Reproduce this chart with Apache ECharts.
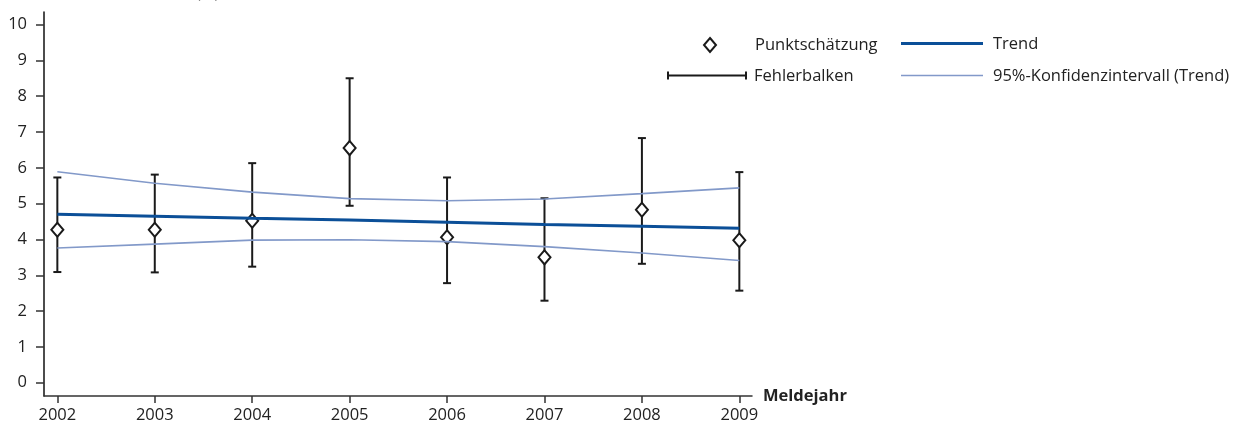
<!DOCTYPE html>
<html>
<head>
<meta charset="utf-8">
<script src="https://cdn.jsdelivr.net/npm/echarts@6/dist/echarts.min.js"></script>
<style>
html,body{margin:0;padding:0;background:#fff;}
#chart{width:1241px;height:425px;}
</style>
</head>
<body>
<div id="chart"></div>
<script>
const years = [2002, 2003, 2004, 2005, 2006, 2007, 2008, 2009];
const estimate = [4.27, 4.27, 4.52, 6.55, 4.06, 3.50, 4.83, 3.98];
const errLow = [3.09, 3.08, 3.24, 4.94, 2.78, 2.29, 3.32, 2.57];
const errHigh = [5.73, 5.81, 6.13, 8.50, 5.73, 5.15, 6.83, 5.88];
const trend = [4.70, 4.65, 4.59, 4.54, 4.48, 4.42, 4.37, 4.31];
const ciUpper = [5.89, 5.57, 5.32, 5.14, 5.08, 5.13, 5.28, 5.44];
const ciLower = [3.76, 3.87, 3.98, 3.99, 3.94, 3.80, 3.62, 3.41];
const yTicks = [0, 1, 2, 3, 4, 5, 6, 7, 8, 9, 10];

const FONT = '"Open Sans", sans-serif';
const TXT = '#222';
const TREND_C = '#0b4f98';
const CI_C = '#8299c9';
const BAR_C = '#1a1a1a';

const chart = echarts.init(document.getElementById('chart'));
const pair = (a) => years.map((y, i) => [y, a[i]]);

chart.setOption({
  animation: false,
  textStyle: { fontFamily: FONT },
  grid: { left: 44, right: 489, top: 12, bottom: 29, containLabel: false },
  xAxis: {
    type: 'value', min: 2001.863, max: 2009.13,
    name: 'Meldejahr', nameLocation: 'end', nameGap: 11,
    nameTextStyle: { fontFamily: FONT, fontSize: 16.5, fontWeight: 'bold', color: TXT, verticalAlign: 'middle' },
    axisLine: { show: true, onZero: false, lineStyle: { color: '#333', width: 1.5 } },
    axisTick: { show: true, length: 7, customValues: years, lineStyle: { color: '#333', width: 1.5 } },
    axisLabel: { customValues: years, margin: 11, fontSize: 16.5, color: TXT, fontFamily: FONT, formatter: v => String(Math.round(v)) },
    splitLine: { show: false }
  },
  yAxis: {
    type: 'value', min: -0.371, max: 10.35,
    axisLine: { show: true, onZero: false, lineStyle: { color: '#111', width: 1.5 } },
    axisTick: { show: true, length: 8, customValues: yTicks, lineStyle: { color: '#333', width: 1.5 } },
    axisLabel: { customValues: yTicks, margin: 17, fontSize: 16.5, color: TXT, fontFamily: FONT, formatter: v => String(Math.round(v)) },
    splitLine: { show: false }
  },
  series: [
    {
      name: 'Fehlerbalken', type: 'custom', z: 2,
      data: years.map((y, i) => [y, errLow[i], errHigh[i]]),
      renderItem: function (params, api) {
        const x = api.value(0);
        const lo = api.coord([x, api.value(1)]);
        const hi = api.coord([x, api.value(2)]);
        const w = 4;
        const st = { stroke: BAR_C, lineWidth: 2 };
        return {
          type: 'group',
          children: [
            { type: 'line', shape: { x1: lo[0], y1: lo[1], x2: hi[0], y2: hi[1] }, style: st },
            { type: 'line', shape: { x1: lo[0] - w, y1: lo[1], x2: lo[0] + w, y2: lo[1] }, style: st },
            { type: 'line', shape: { x1: hi[0] - w, y1: hi[1], x2: hi[0] + w, y2: hi[1] }, style: st }
          ]
        };
      }
    },
    {
      name: 'Punktschätzung', type: 'scatter', z: 3,
      symbol: 'diamond', symbolSize: [12, 14],
      itemStyle: { color: '#fff', borderColor: BAR_C, borderWidth: 2, opacity: 1 },
      data: pair(estimate)
    },
    {
      name: '95%-Konfidenzintervall (Trend) oben', type: 'line', z: 4,
      symbol: 'none', lineStyle: { color: CI_C, width: 1.6 },
      data: pair(ciUpper)
    },
    {
      name: '95%-Konfidenzintervall (Trend) unten', type: 'line', z: 4,
      symbol: 'none', lineStyle: { color: CI_C, width: 1.6 },
      data: pair(ciLower)
    },
    {
      name: 'Trend', type: 'line', z: 5,
      symbol: 'none', lineStyle: { color: TREND_C, width: 3 },
      data: pair(trend)
    }
  ],
  graphic: [
    { type: 'text', left: 196, top: -15, style: { text: '(%)', font: '16.5px ' + FONT, fill: TXT } },
    // legend
    { type: 'polygon', shape: { points: [[710, 38], [716, 45], [710, 52], [704, 45]] }, style: { fill: '#fff', stroke: BAR_C, lineWidth: 2 } },
    { type: 'text', x: 755, y: 45, style: { text: 'Punktschätzung', font: '16.5px ' + FONT, fill: TXT, verticalAlign: 'middle' } },
    { type: 'line', shape: { x1: 901, y1: 43.5, x2: 983, y2: 43.5 }, style: { stroke: TREND_C, lineWidth: 3 } },
    { type: 'text', x: 993, y: 44, style: { text: 'Trend', font: '16.5px ' + FONT, fill: TXT, verticalAlign: 'middle' } },
    { type: 'line', shape: { x1: 668, y1: 75.5, x2: 746, y2: 75.5 }, style: { stroke: BAR_C, lineWidth: 2 } },
    { type: 'line', shape: { x1: 668, y1: 71.5, x2: 668, y2: 79.5 }, style: { stroke: BAR_C, lineWidth: 2 } },
    { type: 'line', shape: { x1: 746, y1: 71.5, x2: 746, y2: 79.5 }, style: { stroke: BAR_C, lineWidth: 2 } },
    { type: 'text', x: 754, y: 76, style: { text: 'Fehlerbalken', font: '16.5px ' + FONT, fill: TXT, verticalAlign: 'middle' } },
    { type: 'line', shape: { x1: 901, y1: 75.5, x2: 983, y2: 75.5 }, style: { stroke: CI_C, lineWidth: 1.6 } },
    { type: 'text', x: 993, y: 76, style: { text: '95%-Konfidenzintervall (Trend)', font: '16.5px ' + FONT, fill: TXT, verticalAlign: 'middle' } }
  ]
});
</script>
</body>
</html>
